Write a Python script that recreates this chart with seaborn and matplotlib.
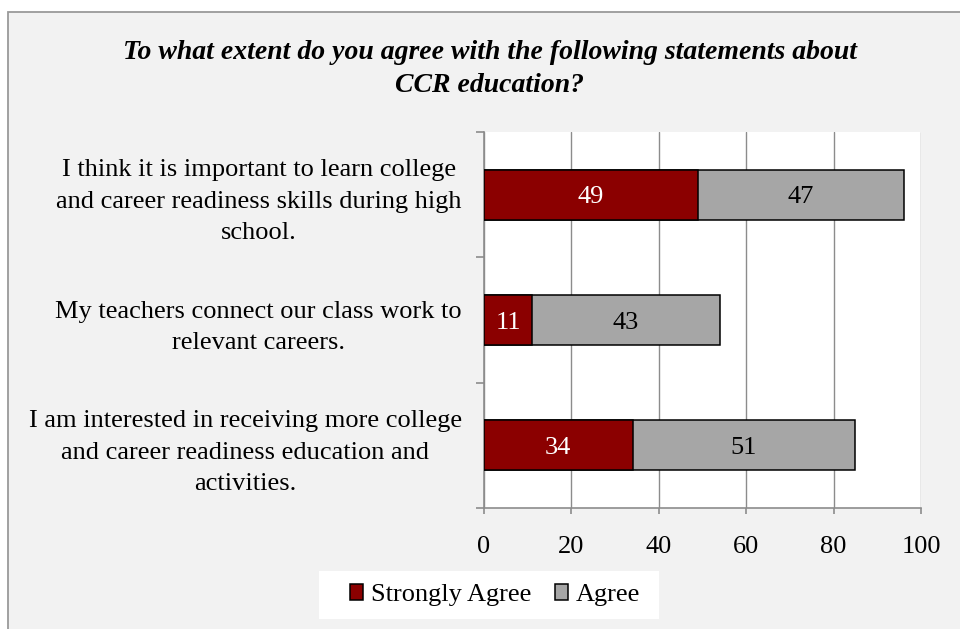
import matplotlib
matplotlib.use("Agg")
import matplotlib.pyplot as plt
import seaborn as sns
import pandas as pd
from matplotlib.patches import Rectangle, Patch

# ---- data ----
statements = [
    "I think it is important to learn college\nand career readiness skills during high\nschool.",
    "My teachers connect our class work to\nrelevant careers.",
    "I am interested in receiving more college\nand career readiness education and\nactivities.",
]
strongly_agree = [49, 11, 34]
agree = [47, 43, 51]
series_names = ["Strongly Agree", "Agree"]
x_ticks = [0, 20, 40, 60, 80, 100]
title = "To what extent do you agree with the following statements about\nCCR education?"

RED = "#8B0000"
GRAY = "#A6A6A6"
LINE = "#8C8C8C"

sns.set_theme(style="white")
plt.rcParams["font.family"] = ["Liberation Serif", "DejaVu Serif"]
plt.rcParams["text.color"] = "black"

W, H = 960, 629
fig = plt.figure(figsize=(W / 100, H / 100), dpi=100, facecolor="white")

# chart-area panel (border visible on top and left only)
fig.patches.append(Rectangle((8 / W, -0.1), 1.2, 1 - 12 / H + 0.1,
                             transform=fig.transFigure, facecolor="#F2F2F2",
                             edgecolor="#9A9A9A", lw=1.3, zorder=-10))

ax = fig.add_axes([484 / W, 1 - 508 / H, (921 - 484) / W, (508 - 132) / H])
ax.set_facecolor("white")
ax.set_zorder(1)

df = pd.DataFrame({"statement": statements,
                   series_names[0]: strongly_agree,
                   series_names[1]: agree})
df["total"] = df[series_names[0]] + df[series_names[1]]

sns.barplot(data=df, y="statement", x="total", color=GRAY, saturation=1,
            edgecolor="black", linewidth=1.1, width=0.4, orient="h", ax=ax,
            zorder=3)
sns.barplot(data=df, y="statement", x=series_names[0], color=RED, saturation=1,
            edgecolor="black", linewidth=1.1, width=0.4, orient="h", ax=ax,
            zorder=4)

for i, (sa, a) in enumerate(zip(strongly_agree, agree)):
    ax.text(sa / 2, i, str(sa), color="white", ha="center", va="center_baseline",
            fontsize=19, zorder=5)
    ax.text(sa + a / 2, i, str(a), color="black", ha="center", va="center_baseline",
            fontsize=19, zorder=5)

ax.set_xlim(0, 100)
ax.set_ylim(2.5, -0.5)
ax.set_xticks(x_ticks)
ax.set_xticklabels([str(t) for t in x_ticks])
ax.set_xlabel("")
ax.set_ylabel("")

ax.grid(axis="x", color=LINE, lw=1.0)
ax.grid(axis="y", visible=False)
ax.set_axisbelow(True)

for s in ["top", "right"]:
    ax.spines[s].set_visible(False)
for s in ["left", "bottom"]:
    ax.spines[s].set_visible(True)
    ax.spines[s].set_color(LINE)
    ax.spines[s].set_linewidth(1.2)

ax.set_yticks([0, 1, 2])
ax.set_yticklabels(statements, ha="right", multialignment="center",
                   linespacing=1.55)
ax.tick_params(axis="y", which="major", length=0, pad=16, labelsize=19,
               labelcolor="black", left=False)
ax.set_yticks([-0.5, 0.5, 1.5, 2.5], minor=True)
ax.tick_params(axis="y", which="minor", length=5.5, width=1.2, color=LINE,
               direction="out", left=True)
ax.tick_params(axis="x", which="major", length=4, width=1.2, color=LINE,
               direction="out", bottom=True, pad=16, labelsize=19,
               labelcolor="black")

fig.text(490 / W, 1 - 91.5 / H, title, ha="center", va="baseline", fontsize=20,
         fontweight="bold", fontstyle="italic", linespacing=1.4,
         multialignment="center", color="black")

# legend box
fig.patches.append(Rectangle((319 / W, 1 - 619 / H), 340 / W, 48 / H,
                             transform=fig.transFigure, facecolor="white",
                             edgecolor="none", zorder=-5))
handles = [Patch(facecolor=RED, edgecolor="black", lw=1.1),
           Patch(facecolor=GRAY, edgecolor="black", lw=1.1)]
leg = fig.legend(handles, series_names, loc="center",
                 bbox_to_anchor=(495 / W, 1 - 595 / H), ncol=2, frameon=False,
                 fontsize=19, handlelength=0.5, handleheight=0.6,
                 handletextpad=0.3, columnspacing=0.9, borderpad=0)
for t in leg.get_texts():
    t.set_color("black")

fig.savefig("out.png", dpi=100, facecolor="white")
